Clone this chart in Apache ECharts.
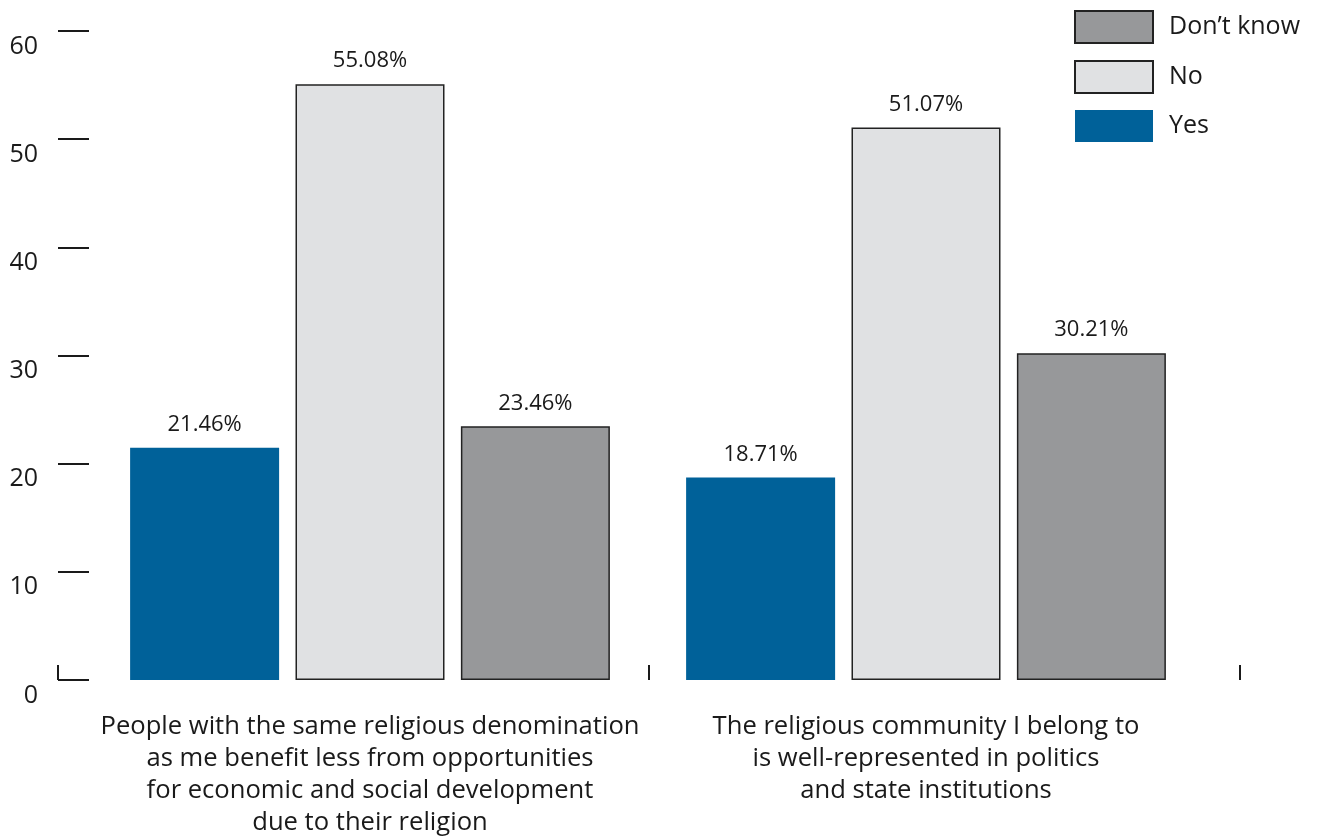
<!DOCTYPE html>
<html>
<head>
<meta charset="utf-8">
<script src="https://cdn.jsdelivr.net/npm/echarts@6/dist/echarts.min.js"></script>
<style>html,body{margin:0;padding:0;background:#fff}#chart{width:1318px;height:837px}</style>
</head>
<body>
<div id="chart"></div>
<script>
const categories = [
  'People with the same religious denomination\nas me benefit less from opportunities\nfor economic and social development\ndue to their religion',
  'The religious community I belong to\nis well-represented in politics\nand state institutions'
];
const yesValues = [21.46, 18.71];
const noValues = [55.08, 51.07];
const dontKnowValues = [23.46, 30.21];
const seriesNames = ['Yes', 'No', 'Don\u2019t know'];
const legendOrder = ['Don\u2019t know', 'No', 'Yes'];

const FONT = '"Open Sans"';
const chart = echarts.init(document.getElementById('chart'));
const labelStyle = {show: true, position: 'top', distance: 12, formatter: p => p.value.toFixed(2) + '%', color: '#1a1a1a', fontSize: 22, fontFamily: FONT};

chart.setOption({
  animation: false,
  backgroundColor: '#ffffff',
  textStyle: {fontFamily: FONT},
  legend: {
    data: legendOrder,
    orient: 'vertical',
    left: 1074, top: 10, padding: 0,
    itemWidth: 78, itemHeight: 32, itemGap: 16,
    icon: 'rect',
    textStyle: {fontSize: 25, color: '#1a1a1a', fontFamily: FONT, padding: [0, 0, 0, 11]}
  },
  grid: [
    {left: 92, right: 114, top: 31, bottom: 157, outerBoundsMode: 'none', containLabel: false},
    {left: 58, right: 78, top: 31, bottom: 157, outerBoundsMode: 'none', containLabel: false}
  ],
  xAxis: [
    {type: 'category', gridIndex: 0, data: categories,
     axisLine: {show: false}, axisTick: {show: false},
     axisLabel: {fontSize: 25.6, lineHeight: 32, color: '#1a1a1a', fontFamily: FONT, margin: 31, interval: 0}},
    {type: 'category', gridIndex: 1, data: categories, boundaryGap: true,
     axisLine: {show: false}, axisLabel: {show: false},
     axisTick: {show: true, inside: true, length: 15, lineStyle: {color: '#1a1a1a', width: 2}}}
  ],
  yAxis: [
    {type: 'value', gridIndex: 0, min: 0, max: 60, interval: 10, show: false, splitLine: {show: false}},
    {type: 'value', gridIndex: 1, min: 0, max: 60, interval: 10,
     axisLine: {show: false}, splitLine: {show: false},
     axisTick: {show: true, inside: true, length: 31, lineStyle: {color: '#1a1a1a', width: 2}},
     axisLabel: {fontSize: 25, color: '#1a1a1a', fontFamily: FONT, margin: 20, verticalAlign: 'top', padding: [3,0,0,0]}}
  ],
  series: [
    {name: seriesNames[0], type: 'bar', xAxisIndex: 0, yAxisIndex: 0, data: yesValues,
     barWidth: 149, barGap: '11%',
     itemStyle: {color: '#006199'}, label: labelStyle},
    {name: seriesNames[1], type: 'bar', xAxisIndex: 0, yAxisIndex: 0, data: noValues,
     barWidth: 149, barGap: '11%',
     itemStyle: {color: '#e0e1e3', borderColor: '#222222', borderWidth: 1.5}, label: labelStyle},
    {name: seriesNames[2], type: 'bar', xAxisIndex: 0, yAxisIndex: 0, data: dontKnowValues,
     barWidth: 149, barGap: '11%',
     itemStyle: {color: '#97989a', borderColor: '#222222', borderWidth: 1.5}, label: labelStyle}
  ]
});
</script>
</body>
</html>
